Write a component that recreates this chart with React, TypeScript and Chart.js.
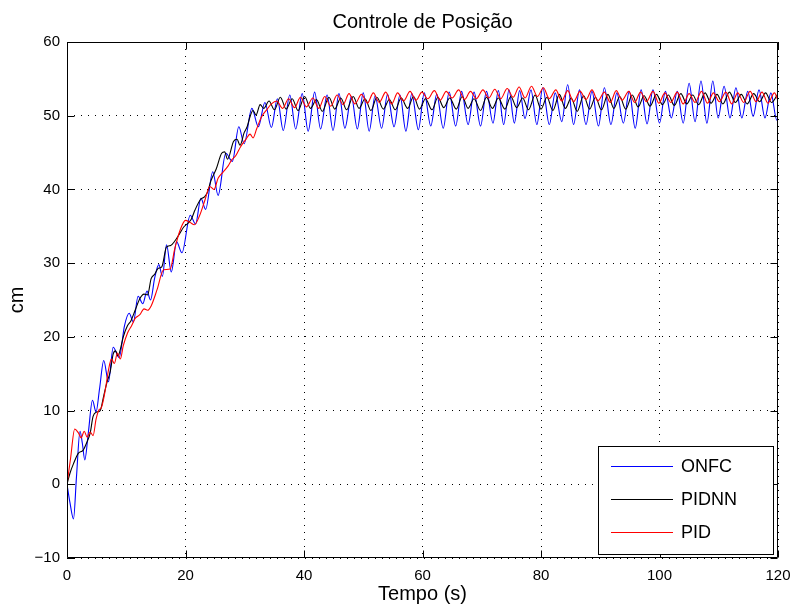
import React, { useEffect, useRef } from "react";
import { Chart, registerables } from "chart.js";

Chart.register(...registerables);

// ---------- data ----------
const xTicks = [0, 20, 40, 60, 80, 100, 120];
const yTicks = [-10, 0, 10, 20, 30, 40, 50, 60];
const seriesNames = ["ONFC", "PIDNN", "PID"];
const seriesColors = ["#0000ff", "#000000", "#ff0000"];

const onfcT = [
  0, 0.5, 1.1, 1.6, 2.2, 2.6, 3.0, 3.6, 4.3, 4.9, 5.5, 6.2, 7.0, 7.8, 8.8, 9.7, 10.5, 11.2, 12.0, 12.8,
  13.5, 14.1, 14.8, 15.5, 16.1, 16.8, 17.6, 18.5, 19.4, 20.8, 21.7, 22.6, 23.4, 24.6, 25.5, 26.8, 27.9, 29.0, 29.9, 31.2,
  32.3, 33.4, 34.5, 35.5, 36.5, 37.6, 38.6, 39.7, 40.7, 41.8, 42.8, 43.9, 44.9, 45.9, 46.9, 48.0, 49.0, 50.0, 51.0, 52.0,
  53.1, 54.1, 55.2, 56.2, 57.2, 58.2, 59.3, 60.3, 61.4, 62.4, 63.5, 64.5, 65.6, 66.6, 67.7, 68.7, 69.8, 70.8, 71.9, 72.8,
  73.7, 74.6, 75.5, 76.4, 77.3, 78.3, 79.3, 80.3, 81.4, 82.4, 83.5, 84.5, 85.5, 86.5, 87.6, 88.6, 89.7, 90.7, 91.8, 92.8,
  93.9, 94.9, 95.9, 96.9, 97.9, 98.9, 100.0, 101.0, 102.0, 103.0, 104.0, 105.0, 106.0, 107.0, 108.0, 109.0, 109.9, 110.9, 111.9, 112.9,
  113.9, 114.9, 115.8, 116.8, 117.8, 118.8, 119.8, 120.0,
];
const onfcY = [
  0, -2.5, -4.7, 1.0, 7.2, 5.5, 3.3, 7.0, 11.4, 9.8, 13.0, 16.8, 13.9, 18.6, 17.2, 21.5, 23.2, 22.0, 25.5, 24.5,
  26.2, 25.0, 28.0, 29.8, 28.2, 32.5, 28.8, 32.9, 31.4, 36.5, 35.3, 38.8, 37.3, 42.4, 39.2, 44.9, 43.8, 48.5, 46.2, 51.0,
  48.5, 51.8, 48.4, 52.3, 48.0, 52.8, 48.2, 53.0, 47.9, 53.2, 48.2, 52.8, 48.0, 53.0, 48.3, 52.6, 48.2, 53.1, 47.9, 52.7,
  48.3, 52.9, 48.5, 52.8, 47.9, 53.0, 48.1, 53.1, 48.6, 52.9, 48.3, 53.2, 48.6, 53.3, 48.8, 53.2, 48.6, 53.3, 49.0, 53.4,
  48.8, 53.5, 49.0, 53.4, 49.6, 53.5, 48.8, 53.8, 48.8, 53.1, 49.2, 54.2, 48.8, 53.5, 48.8, 53.3, 48.6, 53.8, 48.8, 53.1,
  49.0, 53.3, 48.3, 53.5, 48.9, 53.5, 49.0, 53.3, 49.7, 53.3, 49.0, 54.4, 49.2, 54.7, 49.0, 54.7, 49.7, 54.0, 49.7, 53.8,
  49.7, 53.3, 49.9, 53.5, 49.7, 53.1, 49.4, 49.5,
];

const pidnnT = [
  0, 0.5, 1.1, 1.9, 2.7, 3.3, 3.9, 4.4, 5.0, 5.6, 6.2, 6.7, 7.3, 7.8, 8.2, 8.6, 9.0, 9.5, 10.2, 10.8,
  11.5, 12.3, 13.0, 13.6, 14.2, 14.8, 15.4, 16.0, 16.8, 17.5, 18.2, 19.0, 19.7, 20.4, 21.0, 21.6, 22.5, 23.2, 23.7, 24.3,
  25.2, 26.1, 26.6, 27.1, 28.1, 28.7, 29.2, 29.9, 30.4, 30.9, 31.4, 31.9, 32.6, 33.2, 34.1, 35.0, 36.0, 37.0, 38.0, 39.0,
  40.1, 41.1, 42.1, 43.1, 44.2, 45.2, 46.2, 47.2, 48.3, 49.3, 50.3, 51.3, 52.3, 53.4, 54.4, 55.4, 56.4, 57.5, 58.5, 59.5,
  60.5, 61.6, 62.6, 63.6, 64.6, 65.7, 66.7, 67.7, 68.7, 69.8, 70.8, 71.8, 72.8, 73.9, 74.9, 75.9, 76.9, 77.9, 79.0, 80.0,
  81.0, 82.0, 83.1, 84.1, 85.1, 86.1, 87.2, 88.2, 89.2, 90.2, 91.3, 92.3, 93.3, 94.3, 95.4, 96.4, 97.4, 98.4, 99.5, 100.5,
  101.5, 102.5, 103.6, 104.6, 105.6, 106.6, 107.7, 108.7, 109.7, 110.7, 111.8, 112.8, 113.8, 114.8, 115.9, 116.9, 117.9, 118.9, 120.0,
];
const pidnnY = [
  0, 1.5, 2.8, 4.2, 4.6, 5.6, 6.9, 9.2, 9.8, 10.0, 12.0, 13.7, 15.3, 17.7, 18.1, 17.4, 18.3, 20.0, 21.5, 22.2,
  23.6, 25.2, 25.8, 25.7, 27.9, 28.5, 29.3, 29.5, 32.2, 32.4, 33.0, 34.0, 34.9, 35.4, 36.0, 37.2, 38.6, 39.0, 39.6, 41.2,
  42.8, 44.9, 45.1, 44.1, 46.5, 46.8, 46.0, 47.7, 48.5, 49.9, 50.7, 50.1, 51.5, 51.0, 52.0, 50.8, 52.5, 50.9, 52.3, 50.7,
  52.6, 51.0, 52.2, 50.6, 52.5, 50.9, 52.4, 50.8, 52.6, 51.0, 52.3, 50.7, 52.5, 50.9, 52.2, 50.8, 52.4, 51.0, 52.6, 50.9,
  52.3, 50.8, 52.5, 51.1, 52.4, 50.9, 52.6, 51.0, 52.3, 50.7, 52.5, 51.0, 52.4, 50.9, 52.6, 51.1, 52.4, 50.8, 52.8, 50.9,
  52.5, 50.7, 52.9, 51.0, 52.4, 50.6, 52.7, 50.9, 52.5, 50.8, 52.9, 51.0, 52.6, 50.9, 52.8, 51.2, 52.7, 51.3, 52.9, 51.5,
  52.8, 51.4, 53.0, 51.6, 52.8, 51.5, 53.1, 51.7, 52.9, 51.6, 53.2, 51.8, 52.9, 51.6, 53.0, 51.9, 53.1, 51.8, 53.0,
];

const pidT = [
  0, 0.6, 1.3, 1.9, 2.4, 2.9, 3.4, 3.9, 4.4, 4.9, 5.4, 5.8, 6.4, 7.0, 7.5, 8.0, 8.5, 9.0, 9.5, 10.2,
  10.9, 11.5, 12.3, 13.0, 13.6, 14.2, 15.2, 16.3, 17.4, 18.2, 19.1, 20.0, 20.8, 21.5, 22.4, 23.3, 24.1, 24.8, 25.5, 26.4,
  27.2, 27.8, 28.5, 29.3, 30.2, 30.9, 31.4, 32.0, 32.8, 33.7, 34.5, 35.4, 36.4, 37.4, 38.4, 39.4, 40.4, 41.5, 42.5, 43.5,
  44.5, 45.6, 46.6, 47.6, 48.6, 49.7, 50.7, 51.7, 52.7, 53.8, 54.8, 55.8, 56.8, 57.9, 58.9, 59.9, 60.9, 62.0, 63.0, 64.0,
  65.0, 66.1, 67.1, 68.1, 69.1, 70.2, 71.2, 72.2, 73.2, 74.3, 75.3, 76.3, 77.3, 78.4, 79.4, 80.4, 81.4, 82.5, 83.5, 84.5,
  85.5, 86.6, 87.6, 88.6, 89.6, 90.7, 91.7, 92.7, 93.7, 94.8, 95.8, 96.8, 97.8, 98.9, 99.9, 100.9, 101.9, 103.0, 104.0, 105.0,
  106.0, 107.1, 108.1, 109.1, 110.1, 111.2, 112.2, 113.2, 114.2, 115.3, 116.3, 117.3, 118.3, 119.4, 120.0,
];
const pidY = [
  0, 3.5, 7.5, 7.0, 6.3, 7.2, 6.4, 7.1, 6.6, 8.8, 10.1, 10.4, 12.5, 15.5, 17.0, 16.4, 17.8, 17.0, 18.8, 20.5,
  21.5, 22.5, 23.0, 23.8, 23.6, 24.2, 26.4, 29.1, 29.2, 32.0, 34.5, 35.8, 35.5, 35.2, 36.5, 38.6, 40.4, 40.0, 41.5, 42.4,
  43.2, 44.0, 44.6, 45.8, 46.8, 47.5, 47.0, 48.2, 49.8, 50.8, 51.6, 52.0, 51.0, 52.3, 51.1, 52.5, 51.2, 52.4, 51.0, 52.6,
  51.3, 52.8, 51.5, 53.0, 51.6, 52.9, 51.7, 53.1, 51.8, 53.2, 51.6, 53.1, 52.0, 53.3, 52.1, 53.2, 52.3, 53.4, 52.1, 53.3,
  52.4, 53.5, 52.2, 53.3, 52.3, 53.5, 52.4, 53.6, 52.3, 53.7, 52.5, 53.9, 52.4, 54.0, 52.6, 53.8, 52.3, 53.5, 52.0, 53.4,
  51.9, 53.3, 52.2, 53.5, 52.0, 53.2, 51.8, 53.4, 52.1, 53.3, 51.8, 53.2, 51.9, 53.3, 51.7, 53.1, 51.8, 53.2, 51.6, 53.0,
  51.8, 53.3, 51.7, 53.1, 51.9, 53.2, 51.6, 53.1, 51.8, 53.3, 51.9, 53.2, 51.7, 53.1, 52.0,
];

const FONT = "'Liberation Sans', Arial, Helvetica, sans-serif";

export default function App() {
  const ref = useRef<HTMLCanvasElement | null>(null);

  useEffect(() => {
    document.body.style.margin = "0";
    const canvas = ref.current;
    if (!canvas) return;

    const pts = (t: number[], y: number[]) => t.map((x, i) => ({ x, y: y[i] }));

    const frame = {
      id: "frame",
      afterDraw(chart: any) {
        const { ctx, chartArea: a, scales } = chart;
        const L = Math.round(a.left) + 0.5;
        const R = Math.round(a.right) - 0.5;
        const T = Math.round(a.top) + 0.5;
        const B = Math.round(a.bottom) - 0.5;
        ctx.save();
        ctx.strokeStyle = "#000";
        ctx.lineWidth = 1;
        ctx.setLineDash([]);
        ctx.beginPath();
        ctx.rect(L, T, R - L, B - T);
        // inner tick marks
        const tl = 7;
        xTicks.forEach((v) => {
          const x = Math.round(scales.x.getPixelForValue(v)) + 0.5;
          ctx.moveTo(x, B);
          ctx.lineTo(x, B - tl);
          ctx.moveTo(x, T);
          ctx.lineTo(x, T + tl);
        });
        yTicks.forEach((v) => {
          const y = Math.round(scales.y.getPixelForValue(v)) + 0.5;
          ctx.moveTo(L, y);
          ctx.lineTo(L + tl, y);
          ctx.moveTo(R, y);
          ctx.lineTo(R - tl, y);
        });
        ctx.stroke();

        // title
        ctx.fillStyle = "#000";
        ctx.font = `20px ${FONT}`;
        ctx.textAlign = "center";
        ctx.textBaseline = "middle";
        ctx.fillText("Controle de Posição", (a.left + a.right) / 2, 22);

        // legend
        const lx = 598.5, ly = 446.5, lw = 175, lh = 108;
        ctx.fillStyle = "#fff";
        ctx.fillRect(lx, ly, lw, lh);
        ctx.strokeStyle = "#000";
        ctx.strokeRect(lx, ly, lw, lh);
        ctx.font = `18px ${FONT}`;
        ctx.textAlign = "left";
        seriesNames.forEach((name, i) => {
          const y = 466.5 + i * 33;
          ctx.strokeStyle = seriesColors[i];
          ctx.beginPath();
          ctx.moveTo(611, y);
          ctx.lineTo(673, y);
          ctx.stroke();
          ctx.fillStyle = "#000";
          ctx.fillText(name, 681, y + 1);
        });
        ctx.restore();
      },
    };

    const chart = new Chart(canvas, {
      type: "line",
      data: {
        datasets: [
          { label: seriesNames[0], data: pts(onfcT, onfcY), borderColor: seriesColors[0], order: 2 },
          { label: seriesNames[1], data: pts(pidnnT, pidnnY), borderColor: seriesColors[1], order: 1 },
          { label: seriesNames[2], data: pts(pidT, pidY), borderColor: seriesColors[2], order: 0 },
        ].map((d) => ({
          ...d,
          borderWidth: 1.1,
          pointRadius: 0,
          fill: false,
          cubicInterpolationMode: "monotone" as const,
        })),
      },
      options: {
        responsive: false,
        animation: false,
        events: [],
        layout: { padding: { top: 42, right: 17, left: 0, bottom: 0 } },
        plugins: { legend: { display: false }, title: { display: false }, tooltip: { enabled: false } },
        scales: {
          x: {
            type: "linear",
            min: 0,
            max: 120,
            afterFit: (s: any) => { s.height = 48; s.paddingLeft = 0; s.paddingRight = 0; },
            afterBuildTicks: (s: any) => { s.ticks = xTicks.map((v) => ({ value: v })); },
            ticks: { color: "#000", font: { family: FONT, size: 15 }, padding: 9, maxRotation: 0, autoSkip: false },
            grid: { color: "#000", lineWidth: 1, drawTicks: false },
            border: { display: false, dash: [1, 6] },
            title: { display: true, text: "Tempo (s)", color: "#000", font: { family: FONT, size: 20 }, padding: { top: 0, bottom: 0 } },
          },
          y: {
            type: "linear",
            min: -10,
            max: 60,
            afterFit: (s: any) => { s.width = 67; s.paddingTop = 0; s.paddingBottom = 0; },
            afterBuildTicks: (s: any) => { s.ticks = yTicks.map((v) => ({ value: v })); },
            ticks: {
              color: "#000",
              font: { family: FONT, size: 15 },
              padding: 7,
              callback: (v: any) => String(v).replace("-", "\u2212"),
            },
            grid: { color: "#000", lineWidth: 1, drawTicks: false },
            border: { display: false, dash: [1, 6] },
            title: { display: true, text: "cm", color: "#000", font: { family: FONT, size: 20 }, padding: { top: 5, bottom: 0 } },
          },
        },
      },
      plugins: [frame],
    });
    return () => chart.destroy();
  }, []);

  return <canvas ref={ref} width={795} height={606} style={{ display: "block" }} />;
}
